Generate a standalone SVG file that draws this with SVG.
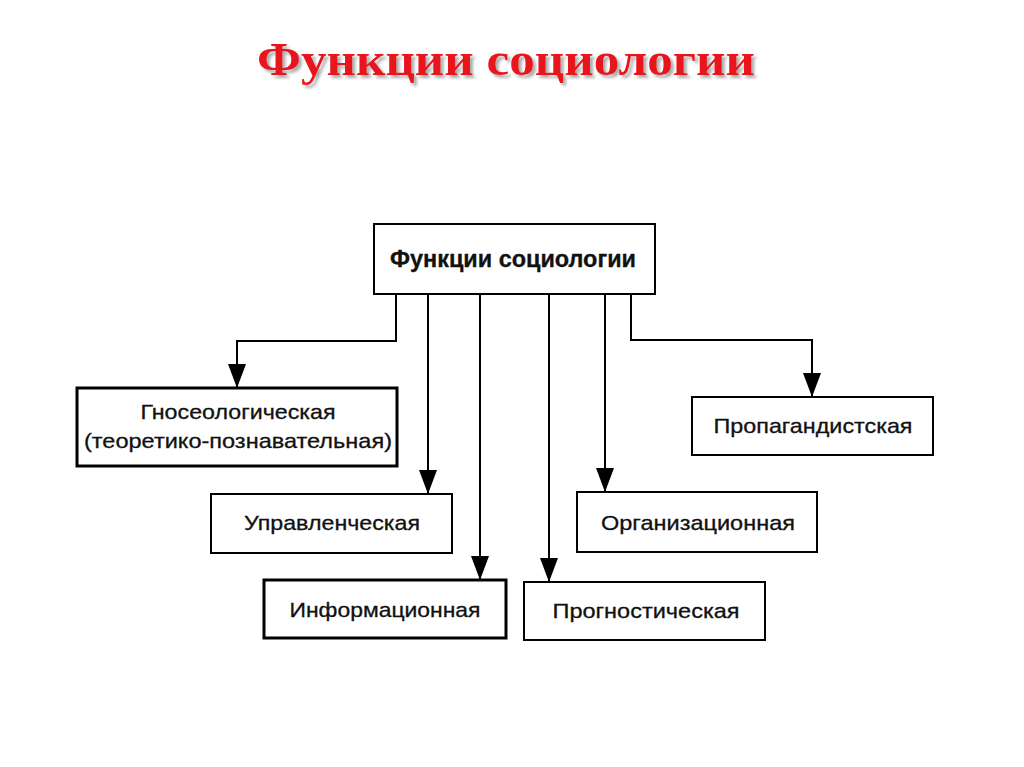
<svg xmlns="http://www.w3.org/2000/svg" width="1024" height="767" viewBox="0 0 1024 767">
<defs>
<marker id="arr" markerUnits="userSpaceOnUse" markerWidth="24" markerHeight="18" viewBox="0 0 24 18" refX="24" refY="9" orient="auto">
<path d="M0,0 L24,9 L0,18 Z" fill="#000"/>
</marker>
<filter id="sh" x="-5%" y="-20%" width="110%" height="150%">
<feGaussianBlur in="SourceAlpha" stdDeviation="1.5"/>
<feOffset dx="3" dy="3" result="b"/>
<feFlood flood-color="#888" flood-opacity="0.7"/>
<feComposite in2="b" operator="in"/>
<feMerge><feMergeNode/><feMergeNode in="SourceGraphic"/></feMerge>
</filter>
</defs>
<style>
.box{fill:#fff;stroke:#000;stroke-width:2}
.thick{stroke-width:3}
.t{font-family:"Liberation Sans",Arial,sans-serif;font-size:21px;fill:#111;text-anchor:middle;stroke:#111;stroke-width:0.3}
.c{fill:none;stroke:#000;stroke-width:2}
</style>
<rect width="1024" height="767" fill="#fff"/>
<text x="506" y="75" filter="url(#sh)" style="font-family:'Liberation Serif','Times New Roman',serif;font-size:47px;font-weight:bold;fill:#e8141c;text-anchor:middle" textLength="498" lengthAdjust="spacingAndGlyphs">Функции социологии</text>

<g id="connectors">
<polyline class="c" points="396,294 396,341 237,341 237,388" marker-end="url(#arr)"/>
<line class="c" x1="428" y1="294" x2="428" y2="494" marker-end="url(#arr)"/>
<line class="c" x1="480" y1="294" x2="480" y2="580" marker-end="url(#arr)"/>
<line class="c" x1="549" y1="294" x2="549" y2="582" marker-end="url(#arr)"/>
<line class="c" x1="605" y1="294" x2="605" y2="492" marker-end="url(#arr)"/>
<polyline class="c" points="631,294 631,340 812,340 812,397" marker-end="url(#arr)"/>
</g>

<g id="root">
<rect class="box" x="374" y="224" width="281" height="70"/>
<text class="t" x="513" y="267" style="font-weight:bold;font-size:23px" textLength="246" lengthAdjust="spacingAndGlyphs">Функции социологии</text>
</g>
<g id="gnoseo">
<rect class="box thick" x="77" y="388" width="320" height="78"/>
<text class="t" x="238" y="419" textLength="195" lengthAdjust="spacingAndGlyphs">Гносеологическая</text>
<text class="t" x="238" y="448" textLength="308" lengthAdjust="spacingAndGlyphs">(теоретико-познавательная)</text>
</g>
<g id="propag">
<rect class="box" x="692" y="397" width="241" height="58"/>
<text class="t" x="813" y="433" textLength="199" lengthAdjust="spacingAndGlyphs">Пропагандистская</text>
</g>
<g id="upravl">
<rect class="box" x="211" y="494" width="241" height="59"/>
<text class="t" x="332" y="530" textLength="176" lengthAdjust="spacingAndGlyphs">Управленческая</text>
</g>
<g id="organiz">
<rect class="box" x="577" y="492" width="240" height="60"/>
<text class="t" x="698" y="530" textLength="194" lengthAdjust="spacingAndGlyphs">Организационная</text>
</g>
<g id="inform">
<rect class="box thick" x="264" y="580" width="242" height="58"/>
<text class="t" x="385" y="617" textLength="191" lengthAdjust="spacingAndGlyphs">Информационная</text>
</g>
<g id="prognos">
<rect class="box" x="524" y="582" width="241" height="58"/>
<text class="t" x="646" y="618" textLength="187" lengthAdjust="spacingAndGlyphs">Прогностическая</text>
</g>
</svg>
